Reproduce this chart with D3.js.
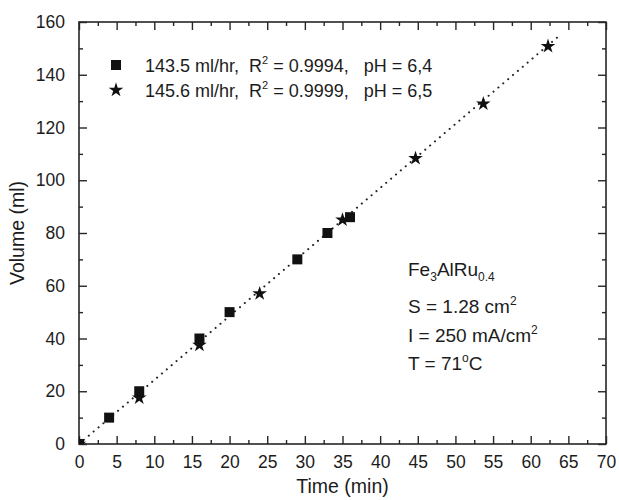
<!DOCTYPE html>
<html>
<head>
<meta charset="utf-8">
<script src="https://cdn.jsdelivr.net/npm/d3@7"></script>
<style>
  body { margin: 0; background: #fff; }
  text { font-family: "Liberation Sans", Arial, sans-serif; fill: #1c1c1c; }
</style>
</head>
<body>
<svg id="chart" width="619" height="500"></svg>
<script>
// Hydrogen volume collected over time, two runs
const squareTime   = [0, 4, 8, 16, 20, 29, 33, 36];
const squareVolume = [0, 10, 20, 40, 50, 70, 80, 86];
const starTime     = [0, 8, 16, 24, 35, 44.7, 53.7, 62.3];
const starVolume   = [0, 17.5, 37.5, 57, 85, 108.3, 129, 150.8];

// Linear fit: production rate in ml/hr, drawn up to fitEndTime (min)
const fitRate = 145.6;
const fitEndTime = 63.5;

const xTicks = [0, 5, 10, 15, 20, 25, 30, 35, 40, 45, 50, 55, 60, 65, 70];
const yTicks = [0, 20, 40, 60, 80, 100, 120, 140, 160];
const xMinor = [2.5, 7.5, 12.5, 17.5, 22.5, 27.5, 32.5, 37.5, 42.5, 47.5, 52.5, 57.5, 62.5, 67.5];
const yMinor = [10, 30, 50, 70, 90, 110, 130, 150];

const legendItems = [
  { symbol: "square", rate: "143.5 ml/hr,  R", r2: " = 0.9994,   pH = 6,4" },
  { symbol: "star",   rate: "145.6 ml/hr,  R", r2: " = 0.9999,   pH = 6,5" }
];

(function draw() {
  const svg = d3.select("#chart");
  const W = 619, H = 500;
  const m = { left: 79, right: 13, top: 22, bottom: 56 };
  const pw = W - m.left - m.right, ph = H - m.top - m.bottom;

  const x = d3.scaleLinear().domain([0, 70]).range([0, pw]);
  const y = d3.scaleLinear().domain([0, 160]).range([ph, 0]);

  const g = svg.append("g").attr("transform", `translate(${m.left},${m.top})`);
  const axisColor = "#262626";

  g.append("defs").append("clipPath").attr("id", "plotClip")
    .append("rect").attr("width", pw).attr("height", ph);

  // Frame
  g.append("rect").attr("width", pw).attr("height", ph)
    .attr("fill", "none").attr("stroke", axisColor).attr("stroke-width", 1.6);

  // Axes with inward ticks
  function styleAxis(sel) {
    sel.select(".domain").remove();
    sel.selectAll(".tick line").attr("stroke", axisColor).attr("stroke-width", 1.4);
  }
  const labelSize = "17.5px";
  const axB = g.append("g").attr("transform", `translate(0,${ph})`)
    .call(d3.axisBottom(x).tickValues(xTicks).tickSize(-8).tickPadding(12).tickFormat(d3.format("d")));
  styleAxis(axB);
  axB.selectAll("text").attr("font-size", labelSize).attr("fill", "#1c1c1c");
  const axT = g.append("g")
    .call(d3.axisTop(x).tickValues(xTicks).tickSize(-8).tickFormat(""));
  styleAxis(axT);
  const axL = g.append("g")
    .call(d3.axisLeft(y).tickValues(yTicks).tickSize(-8).tickPadding(14).tickFormat(d3.format("d")));
  styleAxis(axL);
  axL.selectAll("text").attr("font-size", labelSize).attr("fill", "#1c1c1c");
  const axR = g.append("g").attr("transform", `translate(${pw},0)`)
    .call(d3.axisRight(y).tickValues(yTicks).tickSize(-8).tickFormat(""));
  styleAxis(axR);

  // Minor ticks
  g.append("g").attr("transform", `translate(0,${ph})`)
    .call(d3.axisBottom(x).tickValues(xMinor).tickSize(-4).tickFormat("")).call(styleAxis);
  g.append("g").call(d3.axisTop(x).tickValues(xMinor).tickSize(-4).tickFormat("")).call(styleAxis);
  g.append("g").call(d3.axisLeft(y).tickValues(yMinor).tickSize(-4).tickFormat("")).call(styleAxis);
  g.append("g").attr("transform", `translate(${pw},0)`)
    .call(d3.axisRight(y).tickValues(yMinor).tickSize(-4).tickFormat("")).call(styleAxis);

  // Axis titles
  g.append("text").attr("x", pw / 2).attr("y", ph + 49).attr("text-anchor", "middle")
    .attr("font-size", "19.5px").text("Time (min)");
  g.append("text").attr("transform", `translate(${-55},${ph / 2}) rotate(-90)`)
    .attr("text-anchor", "middle").attr("font-size", "19.5px").text("Volume (ml)");

  const plot = g.append("g").attr("clip-path", "url(#plotClip)");

  // Dotted fit line
  const fitPts = [0, fitEndTime].map(t => [t, fitRate / 60 * t]);
  plot.append("path")
    .attr("d", d3.line().x(d => x(d[0])).y(d => y(d[1]))(fitPts))
    .attr("fill", "none").attr("stroke", "#222").attr("stroke-width", 2)
    .attr("stroke-linecap", "round").attr("stroke-dasharray", "0.1,6.3");

  const squareSym = d3.symbol().type(d3.symbolSquare).size(100);
  const starSym = d3.symbol().type(d3.symbolStar).size(66);

  plot.selectAll("path.star").data(d3.range(starTime.length)).join("path")
    .attr("class", "star").attr("d", starSym).attr("fill", "#111")
    .attr("transform", i => `translate(${x(starTime[i])},${y(starVolume[i])})`);
  plot.selectAll("path.sq").data(d3.range(squareTime.length)).join("path")
    .attr("class", "sq").attr("d", squareSym).attr("fill", "#111")
    .attr("transform", i => `translate(${x(squareTime[i])},${y(squareVolume[i])})`);

  // Legend
  const leg = svg.append("g");
  legendItems.forEach((it, i) => {
    const cy = 65 + i * 25;
    leg.append("path").attr("d", it.symbol === "square" ? squareSym : starSym)
      .attr("fill", "#111").attr("transform", `translate(116,${cy})`);
    const t = leg.append("text").attr("x", 145).attr("y", cy + 7)
      .attr("font-size", "18px").style("white-space", "pre");
    t.append("tspan").text(it.rate);
    t.append("tspan").attr("font-size", "11px").attr("dy", -8).text("2");
    t.append("tspan").attr("dy", 8).text(it.r2);
  });

  // Conditions annotation
  const ann = svg.append("g");
  const fe = ann.append("text").attr("x", 408).attr("y", 276).attr("font-size", "19px");
  fe.append("tspan").text("Fe");
  fe.append("tspan").attr("font-size", "12px").attr("dy", 5).text("3");
  fe.append("tspan").attr("dy", -5).text("AlRu");
  fe.append("tspan").attr("font-size", "12px").attr("dy", 5).text("0.4");

  const s = ann.append("text").attr("x", 408).attr("y", 313).attr("font-size", "19px");
  s.append("tspan").text("S = 1.28 cm");
  s.append("tspan").attr("font-size", "12px").attr("dy", -8).text("2");

  const cur = ann.append("text").attr("x", 408).attr("y", 342).attr("font-size", "19px");
  cur.append("tspan").text("I = 250 mA/cm");
  cur.append("tspan").attr("font-size", "12px").attr("dy", -8).text("2");

  const temp = ann.append("text").attr("x", 408).attr("y", 370).attr("font-size", "19px");
  temp.append("tspan").text("T = 71");
  temp.append("tspan").attr("font-size", "12px").attr("dy", -8).text("o");
  temp.append("tspan").attr("dy", 8).text("C");
})();
</script>
</body>
</html>
